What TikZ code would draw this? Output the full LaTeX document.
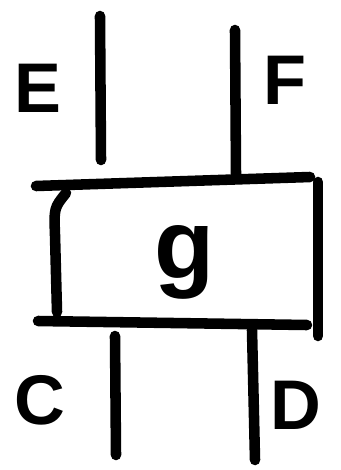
\documentclass[tikz,border=0pt]{standalone}
\usepackage{fontspec}
\setmainfont{Liberation Sans}

\begin{document}
\begin{tikzpicture}[x=0.03cm,y=-0.03cm,
    stroke/.style={line width=9pt,line cap=round,line join=round},
    wirelabel/.style={font=\bfseries\fontsize{60}{60}\selectfont},
    boxlabel/.style={font=\bfseries\fontsize{84}{84}\selectfont}]
  \useasboundingbox (0,0) rectangle (341,470);

  % box outline
  \coordinate (tl) at (36,186);
  \coordinate (tr) at (310,177);
  \coordinate (bl) at (38,321);
  \coordinate (br) at (307,325);
  \draw[stroke] (tl) -- (tr);
  \draw[stroke] (bl) -- (br);
  \draw[stroke] (66,193) .. controls (54,208) .. (55,235) -- (57,312);
  \draw[stroke] (318,182) -- (318,336);
  \node[boxlabel] (g) at (185,262) {g};

  % wires on top
  \coordinate (e top) at (100,16);
  \coordinate (e bot) at (101,160);
  \coordinate (f top) at (235,30);
  \coordinate (f bot) at (236,174);
  \draw[stroke] (e top) -- (e bot);
  \draw[stroke] (f top) -- (f bot);
  \node[wirelabel] (E) at (38,88) {E};
  \node[wirelabel] (F) at (285,80) {F};

  % wires below
  \coordinate (c top) at (115,336);
  \coordinate (c bot) at (116,455);
  \coordinate (d top) at (252,330);
  \coordinate (d bot) at (255,460);
  \draw[stroke] (c top) -- (c bot);
  \draw[stroke] (d top) -- (d bot);
  \node[wirelabel] (C) at (40,400) {C};
  \node[wirelabel] (D) at (296,405) {D};
\end{tikzpicture}
\end{document}
